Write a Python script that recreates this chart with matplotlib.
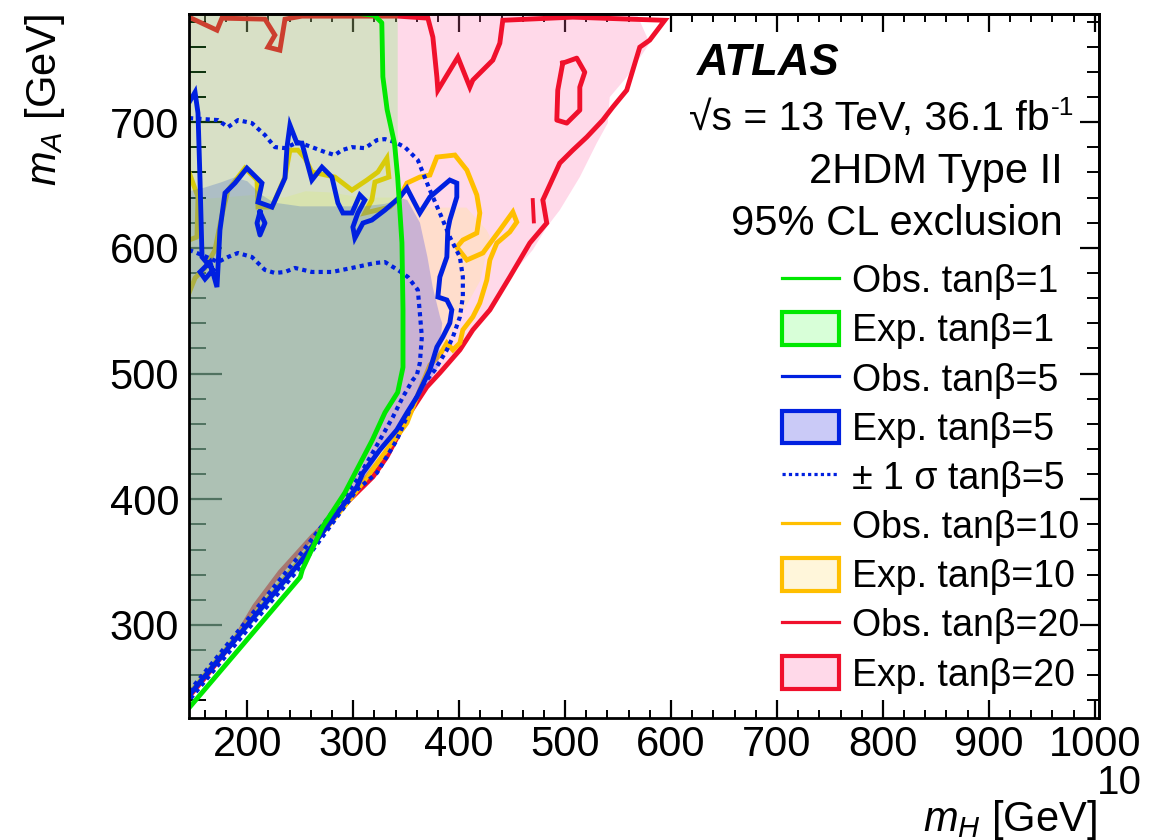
import matplotlib
matplotlib.use("Agg")
import matplotlib.pyplot as plt
from matplotlib.lines import Line2D
from matplotlib.patches import Patch
from matplotlib.ticker import MultipleLocator

plt.rcParams['font.family'] = 'Liberation Sans'
plt.rcParams['mathtext.fontset'] = 'custom'
plt.rcParams['mathtext.rm'] = 'Liberation Sans'
plt.rcParams['mathtext.it'] = 'Liberation Sans:italic'
plt.rcParams['mathtext.bf'] = 'Liberation Sans:bold'
plt.rcParams['mathtext.default'] = 'regular'

# ---------------- data (mH, mA in GeV) ----------------
# tan(beta)=1
obs1_mh = [299, 320, 327, 328, 332, 339, 342, 346, 347, 347, 342, 330, 318, 292, 271, 252, 250, 146, 144]
obs1_ma = [787, 785, 779, 736, 710, 683, 656, 604, 551, 505, 485, 469, 447, 405, 378, 344, 338, 235, 233]
exp1_mh = [145, 145, 342, 342, 345, 346, 345, 340, 328, 316, 291, 269, 251, 145]
exp1_ma = [243, 786, 786, 640, 600, 550, 505, 484, 468, 447, 405, 378, 345, 243]

# tan(beta)=5
obs5_mh = [146, 150.7, 153.5, 155.4, 157.3, 167.6, 160.1, 155.4, 164.8, 171.4, 172.4, 174.2, 179, 188.4,
           199.7, 213.9, 210.1, 223.3, 235.6, 237.5, 240.3, 246.9, 251.6, 261, 270.5, 279.9, 285.6, 290.3,
           298.8, 306.3, 311, 304.4, 299.7, 301.6, 309.2, 317.6, 329.9, 344.1, 350.7, 362.9, 372.4, 391.2,
           397.8, 397.8, 391.2, 389.3, 388.4, 381.8, 379.9, 388.4, 393.1, 391.2, 384.6, 379, 372.4, 360.1,
           350.7, 341.2, 325.2, 309.2, 303.5, 250, 200, 145]
obs5_ma = [717, 723.8, 707.2, 653.9, 592.7, 582.4, 575.2, 580.8, 588.7, 568.8, 584.7, 614.1, 643.6, 651.5,
           663.4, 651.5, 636.4, 632.4, 655.5, 680.1, 697.6, 683.3, 683.3, 653.9, 664.2, 656.3, 635.6, 627.7,
           627.7, 642, 638, 627.7, 616.5, 607.8, 619.7, 622.1, 630, 640.4, 647.5, 627.7, 640.4, 653.9,
           651.5, 640.4, 622.1, 614.1, 592.7, 576.8, 560.9, 558.5, 550.6, 540.2, 529.1, 521.1, 502.9, 481.4,
           468.7, 455.2, 439.3, 421, 409.9, 350, 300, 244]
obs5_isl_mh = [212, 209.2, 212, 216.7, 212]
obs5_isl_ma = [628.5, 619.7, 610.2, 619.7, 628.5]
exp5_mh = [145, 145, 160, 175, 188, 200, 212, 225, 250, 280, 310, 330, 347, 351, 363, 370, 375, 382, 384,
           380, 361, 337, 300, 250, 145]
exp5_ma = [242, 645, 648, 652, 656, 653, 643, 636, 633, 633, 633, 635, 639, 638, 620, 593, 569, 545, 540,
           505, 479, 453, 402, 350, 242]
sig5up_mh = [145, 172.4, 181.8, 191.2, 204.4, 216.7, 226.1, 235.6, 247.8, 261, 273.3, 282.7, 289.3, 298.8,
             311, 322.4, 329.9, 339.3, 348.8, 361, 372.4, 381.8, 391.2, 400.7, 403.5, 403.5, 400.7, 394.1,
             388.4, 377.1, 365.8, 353.5, 341.2, 322.4, 303.5, 250, 200, 145]
sig5up_ma = [703.2, 701.6, 696, 701.6, 699.2, 689.7, 680.1, 679.3, 684.1, 680.1, 676.2, 673.8, 677.7, 680.1,
             679.3, 685.7, 686.5, 684.1, 680.1, 669.8, 645.9, 627.7, 608.6, 592.7, 576.8, 560.9, 545, 529.1,
             518.8, 502.9, 491, 471.1, 447.2, 421, 407.5, 346, 296, 240]
sig5dn_mh = [145, 157.3, 172.4, 181.8, 191.2, 204.4, 216.7, 226.1, 235.6, 245, 261, 279.9, 298.8, 320.5,
             329.9, 342.2, 351.6, 361, 362.9, 364.8, 362.9, 360.1, 356.3, 346.9, 337.5, 325.2, 312.9, 303.5,
             250, 200, 145]
sig5dn_ma = [598.3, 594.3, 588.7, 592.7, 595.9, 592.7, 582.4, 580, 580.8, 584, 580.8, 580.8, 584, 587.9,
             588.7, 582.4, 576.8, 566.5, 548.2, 529.1, 508.4, 498.9, 494.9, 481.4, 465.5, 447.2, 428.9, 415.4,
             356, 304, 247]

# tan(beta)=10
obs10_mh = [145, 150.7, 160.1, 169.5, 176.1, 181.8, 197.8, 209.2, 210.1, 223.3, 235.6, 240.3, 247.8, 254.4,
            261, 282.7, 298.8, 312.9, 323.3, 331.8, 333.7, 320.5, 317.6, 311, 334.6, 344.1, 350.7, 362.9,
            372.4, 379, 396, 407.3, 416.7, 419.5, 416.7, 403.5, 397.8, 407.3, 422.4, 438.4, 450.7, 454.4,
            447.8, 435.6, 429, 426.1, 419.5, 412.9, 403.5, 400.7, 394.1, 388.4, 381.8, 372.4, 360.1, 350.7,
            331.8, 300, 250, 200, 145]
obs10_ma = [564, 576, 584, 598.3, 626.1, 645.9, 663.4, 653.9, 632.4, 632.4, 656.3, 677.7, 677.7, 671.4,
            660.3, 656.3, 645.9, 653.9, 660.3, 671.4, 656.3, 652.3, 638, 627.7, 632.4, 640.4, 651.5, 656.3,
            657.9, 672.2, 673.8, 661.8, 642, 627.7, 611.8, 606.2, 600.6, 590.3, 595.9, 614.1, 628.5, 620.5,
            612.6, 603.8, 590.3, 574.4, 556.1, 545, 534.7, 524.3, 518.8, 524.3, 514.8, 506.8, 481.4, 460.7,
            439.3, 403, 352, 301, 245]
obs10_isl_mh = [145, 153.5, 152.5, 145]
obs10_isl_ma = [660.3, 640.4, 608.6, 606.2]
exp10_mh = [145, 145, 175, 205, 235, 255, 280, 300, 320, 347, 372, 407, 426, 429, 420, 401, 391, 372, 345,
            320, 250, 145]
exp10_ma = [243, 638, 640, 642, 640, 645, 644, 641, 640, 640, 632, 632, 614, 609, 574, 545, 529, 507, 462,
            425, 351, 243]

# tan(beta)=20
obs20_mh = [145, 171.4, 176.1, 216.7, 226.1, 219.5, 230.8, 235.6, 251.6, 342.2, 370.5, 375.2, 379, 379.9,
            398.8, 410.1, 412.9, 431.8, 438.4, 441.2, 507.3, 561, 594.1, 579.9, 570.5, 558.2, 545, 535.6,
            520.5, 507.3, 495, 479, 482.7, 466.7, 447.8, 429, 412.9, 400.7, 381.8, 369.5, 353.5, 331.8,
            318.6, 290, 261, 231, 207, 188, 160, 145]
obs20_ma = [783.5, 773.1, 782.7, 781.9, 769.2, 759.6, 757.2, 781.9, 784.3, 784.3, 782.7, 767.6, 735.8,
            725.4, 751.7, 727.8, 733.4, 749.3, 762.8, 781, 783.5, 781.9, 781, 765.2, 759.6, 725.4, 711.9,
            701.6, 688.1, 677.7, 667.4, 638, 619.7, 603.8, 576.8, 550.6, 534.7, 518.8, 500.5, 489.3, 468.7,
            433.7, 417.8, 394, 370, 342, 315, 288, 258, 243]
obs20_isl_mh = [497.8, 511, 518.6, 513.9, 513.9, 501.6, 492.2, 493.1, 497.8]
obs20_isl_ma = [746.9, 750.9, 739.7, 727.8, 709.5, 699.2, 701.6, 725.4, 746.9]
obs20_spk_mh = [469.5, 470.5]
obs20_spk_ma = [638, 621]
exp20_mh = [145, 145, 567.6, 579.9, 558.2, 542.2, 540.3, 529.9, 513.9, 495, 482.7, 469.5, 447.8, 429, 412.9,
            400.7, 381.8, 369.5, 353.5, 331.8, 318.6, 261, 207, 145]
exp20_ma = [243, 786, 786, 762.8, 735.8, 719.9, 699.2, 683.3, 656.3, 630, 616.5, 598.3, 576.8, 550.6, 534.7,
            518.8, 500.5, 489.3, 468.7, 433.7, 417.8, 362, 308, 244]

legend_labels = ['Obs. tanβ=1', 'Exp. tanβ=1', 'Obs. tanβ=5', 'Exp. tanβ=5', '± 1 σ tanβ=5',
                 'Obs. tanβ=10', 'Exp. tanβ=10', 'Obs. tanβ=20', 'Exp. tanβ=20']

# ---------------- style ----------------
c_green = '#00e800'
c_blue = '#0020e0'
c_orange = '#ffbf00'
c_red = '#f0102c'
f_green = (60/255, 1.0, 60/255, 0.20)
f_blue = (80/255, 80/255, 230/255, 0.30)
f_orange = (1.0, 230/255, 150/255, 0.35)
f_pink = (1.0, 105/255, 170/255, 0.25)
lw = 3.5

W, H = 1173, 840
fig = plt.figure(figsize=(W/100, H/100), dpi=100)
ax = fig.add_axes([189/W, 1-718/H, 910/W, 704/H])
ax.set_xlim(145, 1004)
ax.set_ylim(226, 786)

ax.fill(exp20_mh, exp20_ma, color=f_pink, lw=0, zorder=1)
ax.plot(obs20_mh, obs20_ma, color=c_red, lw=lw, zorder=2, solid_joinstyle='miter')
ax.plot(obs20_isl_mh, obs20_isl_ma, color=c_red, lw=lw, zorder=2)
ax.plot(obs20_spk_mh, obs20_spk_ma, color=c_red, lw=lw*0.8, zorder=2)
ax.fill(exp10_mh, exp10_ma, color=f_orange, lw=0, zorder=3)
ax.plot(obs10_mh, obs10_ma, color=c_orange, lw=lw, zorder=4, solid_joinstyle='miter')
ax.plot(obs10_isl_mh, obs10_isl_ma, color=c_orange, lw=lw, zorder=4)
ax.fill(exp5_mh, exp5_ma, color=f_blue, lw=0, zorder=5)
ax.fill(exp1_mh, exp1_ma, color=f_green, lw=0, zorder=6)
ax.plot(sig5up_mh, sig5up_ma, color=c_blue, lw=3.0, ls=(0, (1, 1)), zorder=7)
ax.plot(sig5dn_mh, sig5dn_ma, color=c_blue, lw=3.0, ls=(0, (1, 1)), zorder=7)
ax.plot(obs5_mh, obs5_ma, color=c_blue, lw=lw, zorder=8, solid_joinstyle='miter')
ax.plot(obs5_isl_mh, obs5_isl_ma, color=c_blue, lw=lw, zorder=8)
ax.plot(obs1_mh, obs1_ma, color=c_green, lw=lw, zorder=9)

# ---------------- axes / ticks ----------------
for s in ax.spines.values():
    s.set_linewidth(2.0)
    s.set_zorder(20)
ax.xaxis.set_major_locator(MultipleLocator(100))
ax.xaxis.set_minor_locator(MultipleLocator(20))
ax.yaxis.set_major_locator(MultipleLocator(100))
ax.yaxis.set_minor_locator(MultipleLocator(20))
ax.tick_params(axis='x', which='major', direction='in', length=13, width=1.6, labelsize=30, pad=5)
ax.tick_params(axis='x', which='minor', direction='in', length=6, width=1.4)
ax.tick_params(axis='y', which='major', direction='in', length=24, width=1.6, labelsize=30, pad=7)
ax.tick_params(axis='y', which='minor', direction='in', length=12, width=1.4)

secx = ax.secondary_xaxis('top')
secx.xaxis.set_major_locator(MultipleLocator(100))
secx.xaxis.set_minor_locator(MultipleLocator(20))
secx.tick_params(which='major', direction='in', length=13, width=1.6, labeltop=False)
secx.tick_params(which='minor', direction='in', length=6, width=1.4)
secx.spines['top'].set_linewidth(2.0)
secy = ax.secondary_yaxis('right')
secy.yaxis.set_major_locator(MultipleLocator(100))
secy.yaxis.set_minor_locator(MultipleLocator(20))
secy.tick_params(which='major', direction='in', length=14, width=1.6, labelright=False)
secy.tick_params(which='minor', direction='in', length=8.5, width=1.4)
secy.spines['right'].set_linewidth(2.0)

# axis titles
fig.text(45/W, 1-14/H, r'$\mathit{m}_{\mathit{A}}$ [GeV]', rotation=90, ha='center', va='top', fontsize=30)
fig.text(1097/W, 1-831/H, r'$\mathit{m}_{\mathit{H}}$ [GeV]', ha='right', va='baseline', fontsize=30)
fig.text(1119/W, 1-794/H, '10', ha='center', va='baseline', fontsize=29)

# labels
ax.text((697-189)/910, 1-61/704, 'ATLAS', transform=ax.transAxes, fontsize=31.5,
        fontweight='bold', fontstyle='italic', ha='left', va='baseline')
x_sup = (1050-189)/910
ax.text(x_sup, 1-116/704, '√s = 13 TeV, 36.1 fb', transform=ax.transAxes, fontsize=29.5,
        ha='right', va='baseline')
ax.text(x_sup + 1/910, 1-101/704, '-1', transform=ax.transAxes, fontsize=19,
        ha='left', va='baseline')
ax.text(0.9604, 1-169/704, '2HDM Type II', transform=ax.transAxes, fontsize=30, ha='right', va='baseline')
ax.text(0.9604, 1-221/704, '95% CL exclusion', transform=ax.transAxes, fontsize=30, ha='right', va='baseline')

# legend
handles = [
    Line2D([], [], color=c_green, lw=2.3),
    Patch(facecolor=f_green, edgecolor=c_green, lw=3),
    Line2D([], [], color=c_blue, lw=2.3),
    Patch(facecolor=f_blue, edgecolor=c_blue, lw=3),
    Line2D([], [], color=c_blue, lw=2.3, ls=(0, (1, 1))),
    Line2D([], [], color=c_orange, lw=2.3),
    Patch(facecolor=f_orange, edgecolor=c_orange, lw=3),
    Line2D([], [], color=c_red, lw=2.3),
    Patch(facecolor=f_pink, edgecolor=c_red, lw=3),
]
leg = ax.legend(handles, legend_labels, loc='upper left', bbox_to_anchor=((782-189)/910, 1-(263-14)/704),
                frameon=False, fontsize=27, handlelength=1.52, handleheight=0.96, handletextpad=0.35,
                labelspacing=0.32, borderpad=0, borderaxespad=0)
leg.set_zorder(30)

fig.savefig('out.png', dpi=100)
